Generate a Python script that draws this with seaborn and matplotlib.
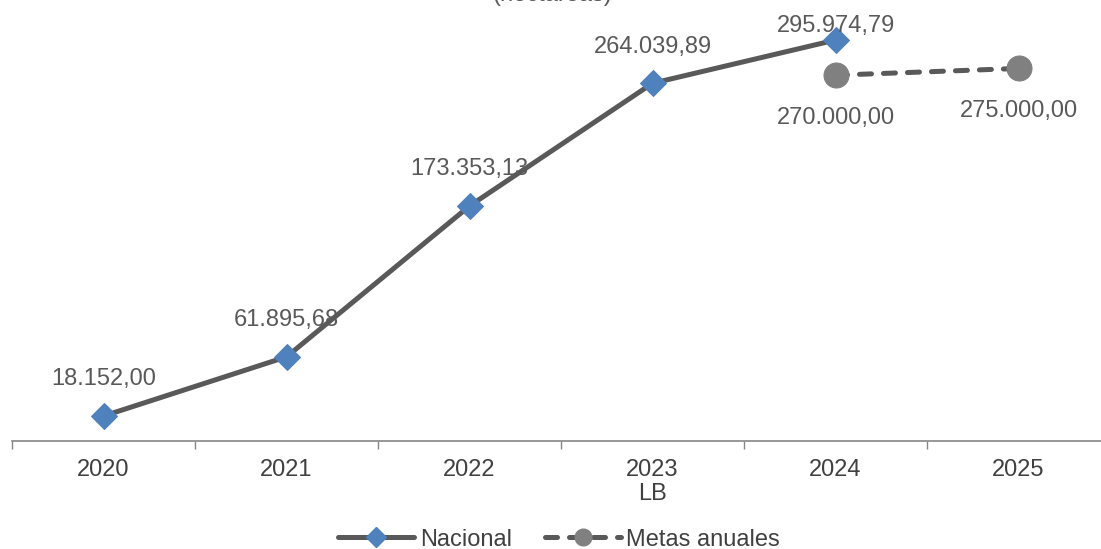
import numpy as np
import pandas as pd
import seaborn as sns
import matplotlib.pyplot as plt
from matplotlib.lines import Line2D

# data
years = ['2020', '2021', '2022', '2023', '2024', '2025']
tick_labels = ['2020', '2021', '2022', '2023\nLB', '2024', '2025']
nacional_years = ['2020', '2021', '2022', '2023', '2024']
nacional = [18152.00, 61895.68, 173353.13, 264039.89, 295974.79]
metas_years = ['2024', '2025']
metas = [270000.00, 275000.00]


def fmt(v):
    # spanish number format: 295.974,79
    s = f"{v:,.2f}"
    return s.replace(',', 'X').replace('.', ',').replace('X', '.')


pos = {y: i for i, y in enumerate(years)}
df_nac = pd.DataFrame({'x': [pos[y] for y in nacional_years], 'valor': nacional})
df_met = pd.DataFrame({'x': [pos[y] for y in metas_years], 'valor': metas})

sns.set_theme(style='white')
plt.rcParams['font.family'] = ['Liberation Sans', 'DejaVu Sans']

line_col = '#595959'
dash = (0, (2.4, 2.4))

fig = plt.figure(figsize=(11.01, 5.49), dpi=100)
ax = fig.add_axes([12 / 1101, (549 - 440.6) / 549, 1098 / 1101, 406 / 549])

sns.lineplot(data=df_nac, x='x', y='valor', ax=ax, color=line_col, linewidth=3.6,
             marker='D', markersize=13.5, markerfacecolor='#4F81BD', markeredgecolor='#4F81BD',
             clip_on=False, zorder=3)
sns.lineplot(data=df_met, x='x', y='valor', ax=ax, color=line_col, linewidth=3.6,
             linestyle=dash, dash_capstyle='round', marker='o', markersize=18,
             markerfacecolor='#808080', markeredgecolor='#808080', clip_on=False, zorder=3)

# labels above the national series (the last one squeezed against the top)
offsets_nac = [22, 22, 22, 22, 6]
for (x, v), dy in zip(zip(df_nac['x'], df_nac['valor']), offsets_nac):
    ax.annotate(fmt(v), (x, v), xytext=(0, dy), textcoords='offset points',
                ha='center', va='baseline', fontsize=17, color=line_col)
for x, v in zip(df_met['x'], df_met['valor']):
    ax.annotate(fmt(v), (x, v), xytext=(0, -35), textcoords='offset points',
                ha='center', va='baseline', fontsize=17, color=line_col)

ax.set_xlim(-0.5, 5.5)
ax.set_ylim(0, 300000)
ax.set_xticks(range(len(years)))
ax.set_xticklabels(tick_labels, fontsize=17, color='#404040', linespacing=1.15)
ax.set_xticks(np.arange(-0.5, 6, 1), minor=True)
ax.tick_params(axis='x', which='major', bottom=False, pad=7)
ax.tick_params(axis='x', which='minor', bottom=True, length=6, width=1,
               color='#868686', direction='out')
ax.set_yticks([])
ax.set_xlabel('')
ax.set_ylabel('')
for side in ['top', 'right', 'left']:
    ax.spines[side].set_visible(False)
ax.spines['bottom'].set_color('#868686')
ax.spines['bottom'].set_linewidth(1.2)

# title, cut off at the top of the image in the reference
fig.text(0.502, 1 - 1.5 / 549, '(hectáreas)', ha='center', va='baseline',
         fontsize=17, color=line_col)

handles = [
    Line2D([], [], color=line_col, linewidth=3.6, marker='D', markersize=10,
           markerfacecolor='#4F81BD', markeredgecolor='#4F81BD'),
    Line2D([], [], color=line_col, linewidth=3.6, linestyle=dash, dash_capstyle='round',
           marker='o', markersize=12, markerfacecolor='#808080', markeredgecolor='#808080'),
]
fig.legend(handles, ['Nacional', 'Metas anuales'], loc='center', bbox_to_anchor=(0.508, 0.017),
           ncol=2, frameon=False, fontsize=17, handlelength=3.2, columnspacing=1.4,
           handletextpad=0.25, labelcolor='#404040', borderpad=0)

fig.savefig('out.png', dpi=100)
